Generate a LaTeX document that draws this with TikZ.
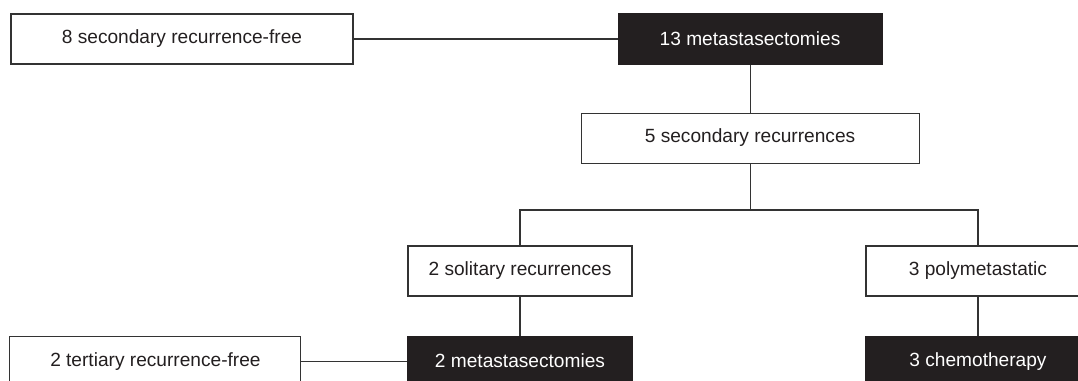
\documentclass[tikz,border=0pt]{standalone}
\usepackage{fontspec}
\setmainfont{Liberation Sans}
\usepackage{xcolor}
\usepackage{tikz}
\usetikzlibrary{positioning,calc}
\definecolor{inkdark}{HTML}{231F20}
\definecolor{rulegray}{HTML}{333333}

\begin{document}
\begin{tikzpicture}[
    openbox/.style={rectangle, draw=rulegray, fill=white, line width=0.75pt,
                    minimum height=1.25cm, text=inkdark, font=\fontsize{13.6}{16}\selectfont},
    darkbox/.style={rectangle, draw=inkdark, fill=inkdark, line width=0.75pt,
                    minimum height=1.25cm, text=white, font=\fontsize{13.6}{16}\selectfont},
    link/.style={draw=rulegray, line width=0.75pt},
    node distance=1cm
]
\clip (0,0) rectangle (26.95,-9.525);

\node[openbox, minimum width=8.55cm] (free1) at (4.55,-0.975) {8 secondary recurrence-free};
\node[darkbox, minimum width=6.6cm, right=6.6cm of free1] (meta1) {13 metastasectomies};
\node[openbox, minimum width=8.45cm, below=1.2cm of meta1] (sec) {5 secondary recurrences};
\node[openbox, minimum width=5.6cm] (sol) at (13.0,-6.775) {2 solitary recurrences};
\node[openbox, minimum width=5.6cm] (poly) at (24.45,-6.775) {3 polymetastatic};
\node[darkbox, minimum width=5.6cm, below=0.975cm of sol] (meta2) {2 metastasectomies};
\node[darkbox, minimum width=5.6cm, below=0.975cm of poly] (chemo) {3 chemotherapy};
\node[openbox, minimum width=7.275cm, left=2.65cm of meta2] (free2) {2 tertiary recurrence-free};

% branches
\coordinate (split) at ($(sec.south)+(0,-1.16)$);
\draw[link] (free1) -- (meta1);
\draw[link] (meta1) -- (sec);
\draw[link] (sec.south) -- (split);
\draw[link] (sol.north) |- (split) -| (poly.north);
\draw[link] (sol) -- (meta2);
\draw[link] (poly) -- (chemo);
\draw[link] (free2) -- (meta2);
\end{tikzpicture}
\end{document}
